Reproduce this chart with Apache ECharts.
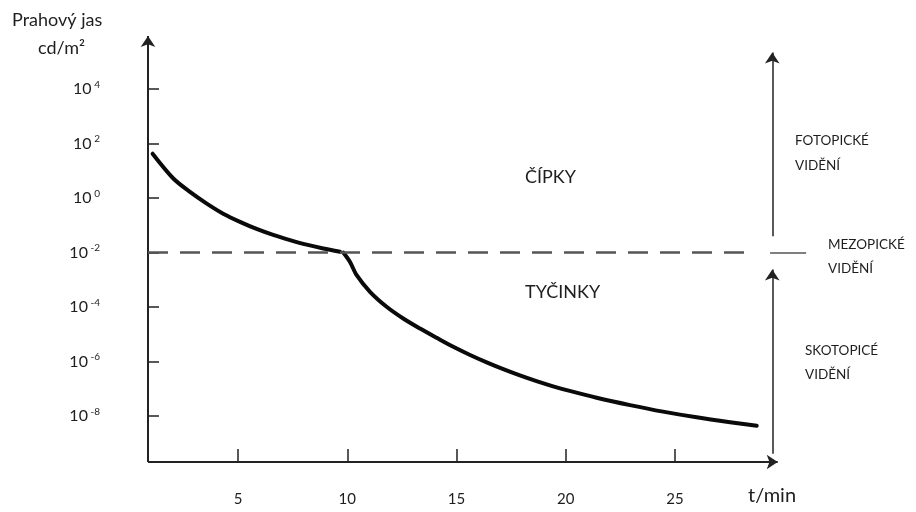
<!DOCTYPE html>
<html><head><meta charset="utf-8">
<script src="https://cdn.jsdelivr.net/npm/echarts@6/dist/echarts.min.js"></script>
<style>html,body{margin:0;padding:0;background:#fff}#c{width:916px;height:512px}</style>
</head><body><div id="c"></div>
<script>
// Data (time in minutes, threshold luminance as log10 of cd/m2)
const coneTime = [1.09, 2.04, 2.80, 3.57, 4.32, 5.09, 5.85, 6.61, 7.38, 8.14, 8.90, 9.67];
const coneLog  = [1.63, 0.72, 0.23, -0.20, -0.57, -0.87, -1.13, -1.35, -1.54, -1.71, -1.85, -1.97];
const rodTime  = [9.82, 10.12, 10.43, 11.04, 11.80, 12.56, 13.33, 14.09, 14.85, 15.62, 16.38, 17.14, 17.90, 18.66, 19.42, 20.18, 21.41, 22.94, 24.45, 25.99, 27.52, 28.74];
const rodLog   = [-2.0, -2.34, -2.83, -3.44, -3.99, -4.42, -4.79, -5.13, -5.46, -5.76, -6.03, -6.28, -6.51, -6.72, -6.91, -7.08, -7.33, -7.60, -7.84, -8.05, -8.23, -8.36];
const xTicks = [5, 10, 15, 20, 25];
const yTicks = [-8, -6, -4, -2, 0, 2, 4];
const mesopicLevel = -2;

const X_MIN = 0.88, X_MAX = 31.2, Y_MIN = -9.69, Y_MAX = 6.1;
const X_END = 29.9, ARROW_X = 29.45;
const FONT = 'Lato';
const TXT = '#1e1e1e';

const chart = echarts.init(document.getElementById('c'), null, {renderer: 'canvas'});
const zip = (a, b) => a.map((v, i) => [v, b[i]]);

const arrowEnd = {symbol: 'arrow', symbolSize: 11};
const none = {symbol: 'none'};

chart.setOption({
  animation: false,
  grid: {left: 148, top: 32, bottom: 50, right: 105.5, containLabel: false},
  xAxis: {
    type: 'value', min: X_MIN, max: X_MAX,
    axisLine: {show: false, onZero: false},
    splitLine: {show: false},
    axisTick: {show: true, inside: true, length: 13, customValues: xTicks, lineStyle: {color: '#222', width: 1.5}},
    axisLabel: {customValues: xTicks, margin: 30, color: TXT, fontFamily: FONT, fontSize: 15}
  },
  yAxis: {
    type: 'value', min: Y_MIN, max: Y_MAX,
    axisLine: {show: false, onZero: false},
    splitLine: {show: false},
    axisTick: {show: true, inside: true, length: 11, customValues: yTicks, lineStyle: {color: '#222', width: 1.5}},
    axisLabel: {
      customValues: yTicks, margin: 48, color: TXT, fontFamily: FONT,
      formatter: v => '{n|10}{s| ' + v + '}',
      rich: {
        n: {fontSize: 16, fontFamily: FONT, color: TXT},
        s: {fontSize: 10, fontFamily: FONT, color: TXT, padding: [0, 0, 9, 0]}
      }
    }
  },
  graphic: [
    {type: 'text', left: 12, top: 11, style: {text: 'Prahový jas', font: '18px ' + FONT, fill: TXT}},
    {type: 'text', left: 38, top: 39, style: {text: 'cd/m²', font: '18px ' + FONT, fill: TXT}},
    {type: 'text', left: 748, top: 486, style: {text: 't/min', font: '20px ' + FONT, fill: TXT}},
    {type: 'text', left: 525, top: 168, style: {text: 'ČÍPKY', font: '18px ' + FONT, fill: TXT}},
    {type: 'text', left: 525, top: 283, style: {text: 'TYČINKY', font: '18px ' + FONT, fill: TXT}},
    {type: 'text', left: 795, top: 134, style: {text: 'FOTOPICKÉ', font: '13.5px ' + FONT, fill: TXT}},
    {type: 'text', left: 795, top: 159, style: {text: 'VIDĚNÍ', font: '13.5px ' + FONT, fill: TXT}},
    {type: 'text', left: 828, top: 238, style: {text: 'MEZOPICKÉ', font: '13.5px ' + FONT, fill: TXT}},
    {type: 'text', left: 828, top: 262, style: {text: 'VIDĚNÍ', font: '13.5px ' + FONT, fill: TXT}},
    {type: 'text', left: 805, top: 344, style: {text: 'SKOTOPICÉ', font: '13.5px ' + FONT, fill: TXT}},
    {type: 'text', left: 805, top: 368, style: {text: 'VIDĚNÍ', font: '13.5px ' + FONT, fill: TXT}}
  ],
  series: [
    {
      name: 'čípky', type: 'line', data: zip(coneTime, coneLog),
      smooth: 0.3, showSymbol: false, clip: false,
      lineStyle: {color: '#0a0a0a', width: 4, cap: 'round', join: 'round'},
      markLine: {
        silent: true, animation: false, label: {show: false},
        data: [
          // y axis with arrow
          [{coord: [X_MIN, Y_MIN], ...none, lineStyle: {color: '#222', width: 2, type: 'solid'}}, {coord: [X_MIN, Y_MAX - 0.15], ...arrowEnd}],
          // x axis with arrow
          [{coord: [X_MIN, Y_MIN], ...none, lineStyle: {color: '#222', width: 2, type: 'solid'}}, {coord: [X_END - 0.2, Y_MIN], ...arrowEnd}],
          // mesopic dashed line
          [{coord: [X_MIN, mesopicLevel], ...none, lineStyle: {color: '#555', width: 2.5, type: [20, 12]}}, {coord: [28.4, mesopicLevel], ...none}],
          [{coord: [29.35, mesopicLevel], ...none, lineStyle: {color: '#555', width: 1.5, type: 'solid'}}, {coord: [31.0, mesopicLevel], ...none}],
          // photopic arrow (up)
          [{coord: [ARROW_X, -1.4], ...none, lineStyle: {color: '#222', width: 1.5, type: 'solid'}}, {coord: [ARROW_X, 5.35], ...arrowEnd}],
          // scotopic arrow (up)
          [{coord: [ARROW_X, Y_MIN + 0.3], ...none, lineStyle: {color: '#222', width: 1.5, type: 'solid'}}, {coord: [ARROW_X, -2.62], ...arrowEnd}]
        ]
      }
    },
    {
      name: 'tyčinky', type: 'line', data: zip(rodTime, rodLog),
      smooth: 0.3, showSymbol: false, clip: false,
      lineStyle: {color: '#0a0a0a', width: 4, cap: 'round', join: 'round'}
    }
  ]
});
</script></body></html>
